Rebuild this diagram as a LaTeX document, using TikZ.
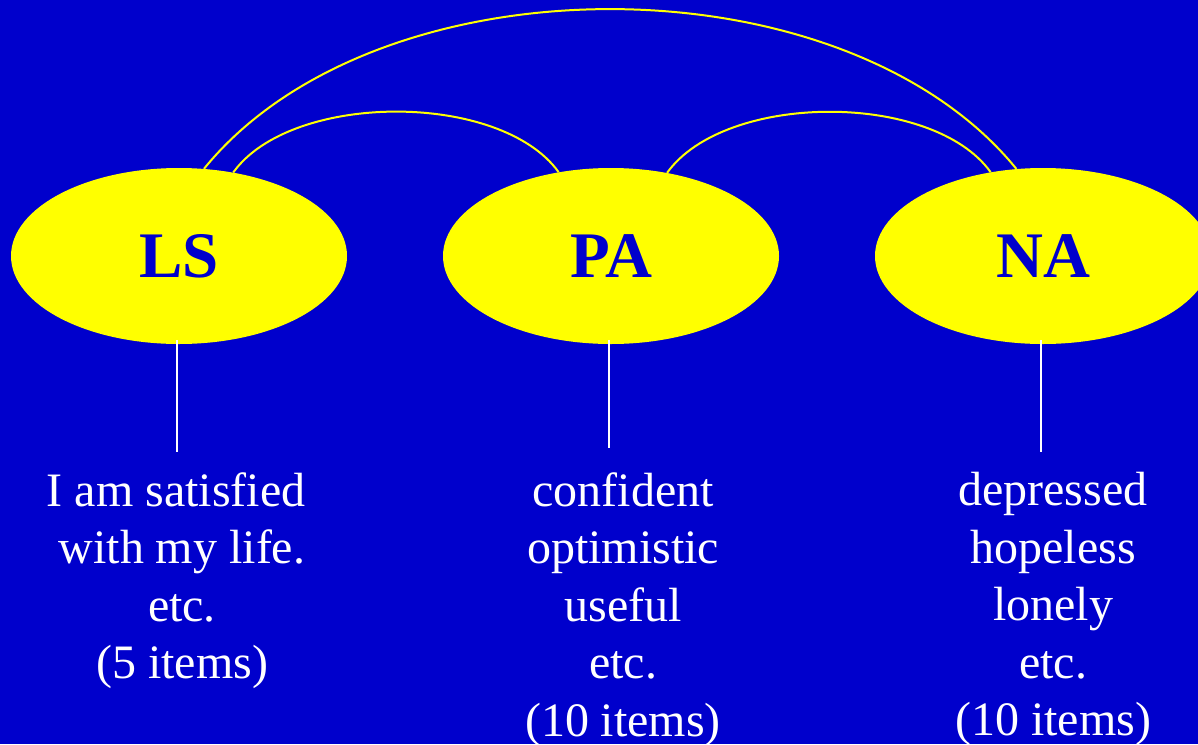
\documentclass[tikz,border=0pt]{standalone}
\usepackage{fontspec}
\setmainfont{Liberation Serif}
\usetikzlibrary{shapes.geometric}
\definecolor{bgblue}{HTML}{0000CC}
\definecolor{ellyellow}{HTML}{FFFF00}
\tikzset{
  factor/.style={ellipse, fill=ellyellow, draw=none, inner sep=0pt,
    minimum width=336pt, minimum height=176pt, text=bgblue,
    font=\fontsize{65}{70}\selectfont\bfseries},
  items/.style={anchor=north, inner sep=0pt, align=center, text=white,
    font=\fontsize{48}{57.5}\selectfont},
  corr/.style={draw=ellyellow, line width=2pt},
  stem/.style={draw=white, line width=2pt}
}
\begin{document}
\begin{tikzpicture}[x=1pt,y=-1pt]
\clip (0,0) rectangle (1198,744);
\fill[bgblue] (0,0) rectangle (1198,744);
\useasboundingbox (0,0) rectangle (1198,744);

\node[factor] (LS) at (179,256) {LS};
\node[factor] (PA) at (611,256) {PA};
\node[factor] (NA) at (1043,256) {NA};

% correlation arcs
\draw[corr] (LS.74) .. controls +(173,-213) and +(-173,-213) .. (NA.107);
\draw[corr] (LS.57) .. controls +(58,-81) and +(-58,-81) .. (PA.122);
\draw[corr] (PA.56) .. controls +(58,-81) and +(-58,-81) .. (NA.122);

% item texts
\node[items] (LSitems) at (182,472) {I am satisfied\kern12pt\\with my life.\\etc.\\(5 items)};
\node[items] (PAitems) at (623,472) {confident\\optimistic\\useful\\etc.\\(10 items)};
\node[items] (NAitems) at (1053,472) {depressed\\hopeless\\lonely\\etc.\\(10 items)};

\coordinate (LSend) at (177,452);
\coordinate (PAend) at (609,448);
\coordinate (NAend) at (1041,452);

\draw[stem] ([xshift=-2pt,yshift=4pt]LS.south) -- (LSend);
\draw[stem] ([xshift=-2pt,yshift=4pt]PA.south) -- (PAend);
\draw[stem] ([xshift=-2pt,yshift=4pt]NA.south) -- (NAend);
\end{tikzpicture}
\end{document}
